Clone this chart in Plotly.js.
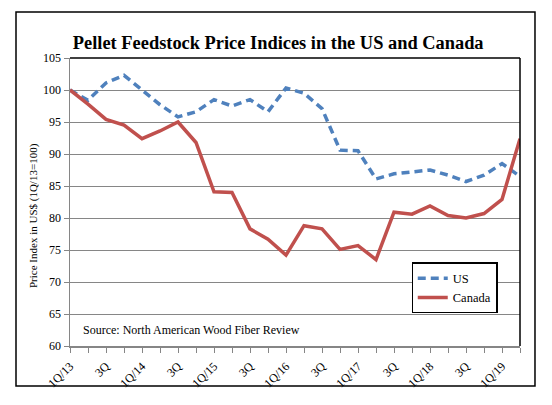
<!DOCTYPE html>
<html>
<head>
<meta charset="utf-8">
<script src="https://cdn.plot.ly/plotly-3.0.1.min.js"></script>
<style>
html,body{margin:0;padding:0;background:#fff;}
#chart{width:552px;height:405px;}
</style>
</head>
<body>
<div id="chart"></div>
<script>
// Quarter index (1Q/13 .. 2Q/19)
const quarters = ["1Q/13","2Q/13","3Q/13","4Q/13","1Q/14","2Q/14","3Q/14","4Q/14",
  "1Q/15","2Q/15","3Q/15","4Q/15","1Q/16","2Q/16","3Q/16","4Q/16",
  "1Q/17","2Q/17","3Q/17","4Q/17","1Q/18","2Q/18","3Q/18","4Q/18",
  "1Q/19","2Q/19"];
const tickLabels = ["1Q/13","","3Q","","1Q/14","","3Q","","1Q/15","","3Q","","1Q/16","","3Q","",
  "1Q/17","","3Q","","1Q/18","","3Q","","1Q/19",""];
const usValues = [100.0, 98.4, 101.1, 102.3, 100.0, 97.7, 95.8, 96.6, 98.5, 97.5, 98.5, 96.6, 100.3,
  99.5, 97.1, 90.6, 90.5, 86.1, 86.9, 87.2, 87.5, 86.7, 85.7, 86.7, 88.5, 86.5];
const canadaValues = [100.0, 97.8, 95.4, 94.5, 92.4, 93.6, 95.0, 91.8, 84.1, 84.0, 78.3, 76.7, 74.2,
  78.8, 78.3, 75.1, 75.7, 73.5, 80.9, 80.6, 81.9, 80.4, 80.0, 80.7, 82.9, 92.4];

const xIdx = quarters.map((q, i) => i);
const serif = "Liberation Serif, Times New Roman, serif";

const traces = [
  {x: xIdx, y: usValues, text: quarters, name: "US", type: "scatter", mode: "lines",
   line: {color: "#4F81BD", width: 3.5, dash: "8px,5px"}, hoverinfo: "text+y"},
  {x: xIdx, y: canadaValues, text: quarters, name: "Canada", type: "scatter", mode: "lines",
   line: {color: "#C0504D", width: 3.5}, hoverinfo: "text+y"}
];

const layout = {
  width: 552, height: 405,
  margin: {l: 70, r: 32, t: 58, b: 59},
  paper_bgcolor: "#fff", plot_bgcolor: "#fff",
  font: {family: serif, size: 12, color: "#000"},
  showlegend: true,
  title: {text: "<b>Pellet Feedstock Price Indices in the US and Canada</b>",
    font: {family: serif, size: 18.4, color: "#000"},
    x: 0.504, xanchor: "center", y: 0.896, yanchor: "middle", xref: "container", yref: "container"},
  xaxis: {
    range: [0, 25], tickmode: "array", tickvals: xIdx, ticktext: tickLabels,
    tickangle: -45, ticks: "outside", ticklen: 5, tickcolor: "#868686", tickwidth: 1,
    ticklabelstandoff: 2,
    showline: true, linecolor: "#868686", linewidth: 1.5,
    showgrid: false, zeroline: false, fixedrange: true,
    tickfont: {family: serif, size: 12, color: "#000"}, automargin: false
  },
  yaxis: {
    range: [60, 105], tickmode: "linear", tick0: 60, dtick: 5,
    ticks: "outside", ticklen: 5, tickcolor: "#868686",
    showline: true, linecolor: "#868686", linewidth: 1.5,
    showgrid: true, gridcolor: "#868686", gridwidth: 1, zeroline: false, fixedrange: true,
    tickfont: {family: serif, size: 12, color: "#000"}, automargin: false
  },
  legend: {
    x: 0.759, y: 0.29, xanchor: "left", yanchor: "top",
    bordercolor: "#000", borderwidth: 1.2, bgcolor: "#fff",
    font: {family: serif, size: 12.5, color: "#000"},
    itemwidth: 30
  },
  annotations: [
    {text: "Source: North American Wood Fiber Review", xref: "paper", yref: "paper",
     x: 0.024, y: 0.0556, xanchor: "left", yanchor: "middle", showarrow: false,
     font: {family: serif, size: 12, color: "#000"}},
    {text: "Price Index in US$ (1Q/13=100)", xref: "paper", yref: "paper",
     x: (33 - 70) / 450, y: (346 - 216) / 288, xanchor: "center", yanchor: "middle",
     textangle: -90, showarrow: false, font: {family: serif, size: 11, color: "#000"}}
  ],
  shapes: [
    {type: "line", xref: "paper", yref: "paper", x0: 0, x1: 1, y0: 1, y1: 1, line: {color: "#000", width: 1.5}},
    {type: "line", xref: "paper", yref: "paper", x0: 1, x1: 1, y0: 0, y1: 1, line: {color: "#000", width: 1.5}},
    {type: "rect", xref: "paper", yref: "paper", x0: -0.12, x1: 1.0333, y0: -0.1389, y1: 1.1597,
     line: {color: "#000", width: 1.5}, fillcolor: "rgba(0,0,0,0)"}
  ]
};

Plotly.newPlot("chart", traces, layout, {displayModeBar: false, staticPlot: true});
</script>
</body>
</html>
